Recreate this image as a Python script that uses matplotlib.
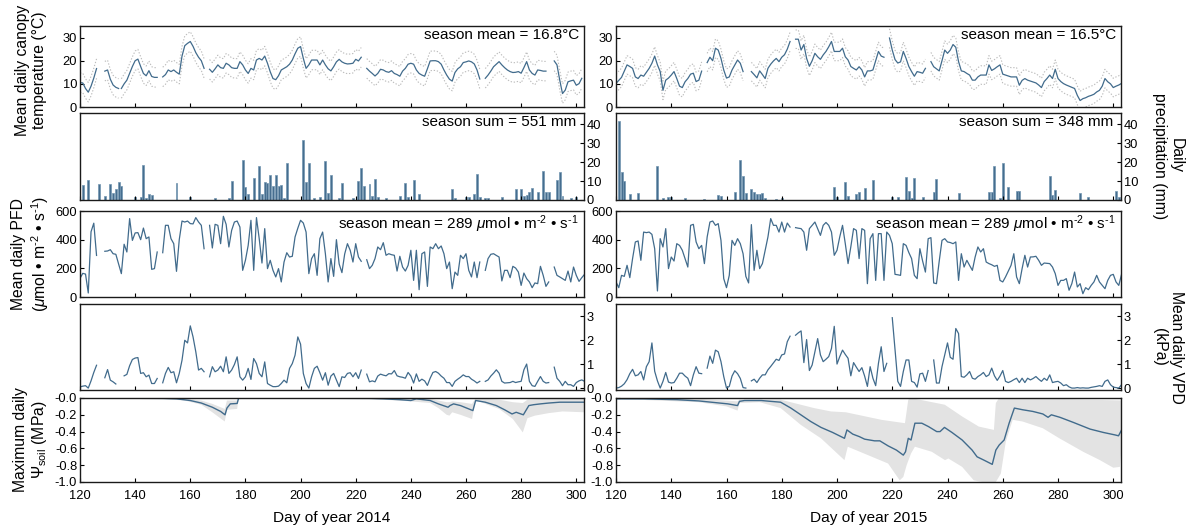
import numpy as np
import matplotlib
matplotlib.use("Agg")
import matplotlib.pyplot as plt

plt.rcParams['font.family'] = ['Liberation Sans', 'DejaVu Sans']
plt.rcParams['mathtext.fontset'] = 'custom'
plt.rcParams['mathtext.rm'] = 'Liberation Sans'
plt.rcParams['mathtext.it'] = 'Liberation Sans:italic'
plt.rcParams['axes.unicode_minus'] = False

# ---------------------------------------------------------------------------
# data: daily series as runs of (first day, values); gaps between runs
# ---------------------------------------------------------------------------
TEMP_2014 = [
    (120, [10.5, 10.4, 8.0, 6.4, 9.0, 12.5, 16.6]),
    (129, [15.5, 16.0, 12.0, 9.5, 8.5, 8.0]),
    (135, [8.0, 10.0, 11.6, 14.5, 17.5, 20.0, 20.7, 17.5, 14.5, 13.5, 15.7, 13.2, 12.8, 12.8]),
    (150, [13.0, 14.0, 16.0, 15.3, 16.0, 15.0, 14.2, 22.0, 26.5, 27.5, 28.3, 26.2, 23.5, 21.5,
           20.0, 16.7]),
    (167, [16.3, 15.0, 16.5, 18.2, 17.0, 16.7, 18.9, 18.2, 17.0, 16.7,
           16.7, 19.6, 18.2, 16.0, 14.5, 16.7, 16.0, 20.3, 21.0, 20.3,
           22.0, 18.9, 15.2, 12.3, 11.8, 13.5, 16.0, 16.7, 17.4, 18.5,
           20.3, 23.0, 25.4, 26.1, 21.0, 16.7, 18.2, 20.3, 20.3, 20.3,
           18.2, 20.3, 18.2, 16.5, 15.6, 17.4, 19.5, 20.6, 19.5, 18.9,
           18.6, 18.7, 18.9, 20.6, 19.9, 21.5]),
    (224, [16.7, 15.5, 14.5, 13.4, 14.5, 16.3, 16.0, 15.3, 15.0, 15.7,
           14.5, 14.0, 13.3, 15.5, 16.7, 18.5, 18.9, 18.5, 16.0, 14.5,
           13.8, 13.3, 16.5, 19.9, 20.0, 20.0, 19.6, 18.5, 16.0, 13.8,
           12.0, 11.2, 14.9, 16.5, 17.4, 19.2, 19.5, 19.9, 19.5, 18.6,
           16.0, 12.1]),
    (267, [12.4, 13.8, 15.5, 17.4, 18.5, 19.6, 18.2, 17.0, 16.0, 15.3,
           14.9, 15.0, 15.3, 14.6, 17.0, 19.6, 16.0, 14.5, 13.8, 16.0,
           15.8, 15.5, 15.5]),
    (292, [19.9, 18.2, 11.6, 5.8, 7.3, 10.9, 11.3, 11.6, 9.4, 10.1, 12.4]),
]

TEMP_2015 = [
    (120, [10.2, 11.5, 12.8, 15.5, 18.2, 17.5, 16.7, 13.0, 12.3, 13.8,
           13.3, 15.0, 16.7, 18.9, 22.0, 18.2, 15.3, 7.2, 11.6, 12.5,
           13.8, 15.3, 12.3, 9.0, 8.4, 10.9, 12.3, 14.2, 14.6, 11.0,
           11.6, 15.5]),
    (153, [19.2, 21.5, 20.0, 25.4, 24.6, 21.0, 16.0, 12.5, 13.0, 16.0, 18.2, 20.3, 18.9, 15.3]),
    (169, [15.3, 14.0, 12.6, 15.6, 14.0, 12.3, 16.7, 18.5, 19.9, 21.0, 19.6, 21.5, 22.6, 25.0,
           28.3]),
    (185, [29.3, 29.3, 24.6, 27.0, 21.0, 17.6, 20.0, 23.2, 21.7, 20.6,
           22.5, 24.0, 26.0, 28.3, 24.0, 24.0, 24.0, 25.4, 21.7, 20.3,
           17.5, 16.7, 16.0, 17.4, 16.0, 13.0, 15.6, 15.6, 16.0, 20.0,
           24.0, 22.0, 21.5]),
    (219, [29.8, 24.6, 20.5, 19.0, 19.5, 24.0, 21.0, 17.5, 15.3, 13.3, 15.3, 15.0, 14.6, 16.7]),
    (234, [19.6, 17.4, 16.5, 15.6, 20.0, 24.6, 23.2, 24.6, 27.0, 25.8,
           19.6, 15.6, 15.3, 14.5, 13.8, 11.6, 11.6, 13.0, 13.8, 13.8,
           13.8, 18.2, 15.8, 16.5, 17.4, 18.2, 14.2, 13.8, 13.4, 13.0,
           13.0, 13.0, 9.4, 11.5, 12.3, 11.6, 11.2, 10.8, 10.4, 9.5,
           8.4, 11.0, 12.3, 13.8, 12.3, 16.3, 12.3, 11.0, 10.1, 9.5,
           9.0, 8.5, 8.0, 5.0, 2.8, 3.6, 4.0, 4.6, 5.0, 5.5,
           6.5, 7.2, 9.0, 12.3, 10.9, 10.0, 8.4, 9.0, 9.5, 10.2]),
]

# spread of canopy sensors around the daily mean (degC)
TEMP_SD_2014 = 4.2
TEMP_SD_2015 = 4.0

# daily precipitation (mm), days not listed had no rain
PRECIP_2014 = {
    121: 8.0, 123: 10.5, 127: 8.4, 129: 2.3, 131: 8.2, 132: 3.9, 133: 6.0, 134: 9.6,
    135: 7.4, 140: 1.7, 142: 1.4, 143: 18.4, 144: 0.9, 145: 3.2, 146: 2.6, 155: 8.8,
    160: 1.8, 169: 0.9, 174: 1.2, 175: 10.0, 179: 21.0, 180: 6.7, 181: 3.2, 183: 11.4,
    185: 17.9, 186: 3.2, 187: 9.6, 188: 8.8, 189: 13.2, 190: 7.4, 191: 13.2, 192: 7.5,
    193: 7.9, 194: 1.2, 195: 19.3, 201: 31.9, 202: 9.6, 203: 19.6, 205: 0.9, 207: 1.4,
    209: 20.5, 210: 3.9, 211: 13.2, 214: 0.9, 215: 8.8, 219: 1.2, 221: 10.2, 222: 17.0,
    223: 7.5, 225: 8.2, 226: 2.1, 227: 10.9, 228: 1.8, 231: 0.9, 236: 2.1, 238: 8.8,
    239: 1.8, 241: 10.5, 243: 3.0, 255: 5.8, 256: 1.2, 260: 1.8, 261: 1.4, 263: 3.0,
    264: 13.7, 265: 1.4, 267: 1.2, 268: 1.2, 273: 1.4, 278: 5.8, 280: 5.8, 281: 2.1,
    282: 2.6, 283: 4.4, 284: 6.1, 286: 4.4, 288: 15.3, 289: 4.4, 290: 4.4, 293: 10.5,
    294: 14.9, 295: 2.1, 298: 0.9, 300: 1.8,
}
PRECIP_2015 = {
    121: 41.8, 122: 14.9, 123: 10.2, 125: 3.0, 128: 3.5, 135: 17.9, 137: 0.9, 139: 1.4,
    140: 1.4, 145: 1.2, 152: 0.7, 157: 2.6, 158: 2.1, 163: 4.0, 165: 21.4, 166: 12.6,
    167: 3.5, 169: 5.8, 170: 4.0, 171: 3.0, 172: 3.0, 173: 3.5, 174: 0.9, 178: 0.5,
    180: 1.2, 199: 7.0, 200: 1.8, 203: 9.3, 204: 2.3, 207: 3.2, 208: 4.0, 210: 6.1,
    213: 10.5, 220: 1.8, 222: 1.8, 225: 12.3, 226: 4.7, 227: 1.2, 228: 11.8, 231: 1.8,
    235: 4.4, 236: 10.9, 244: 3.5, 255: 4.4, 256: 4.4, 257: 17.9, 259: 1.2, 260: 19.6,
    262: 6.7, 265: 4.7, 266: 4.7, 277: 12.8, 278: 2.6, 279: 5.3, 288: 3.5, 291: 1.4,
    301: 4.7, 302: 1.8,
}

PFD_2014 = [
    (120, [130, 165, 160, 28, 455, 515, 290]),
    (129, [319, 321, 330, 302, 298, 230, 163, 368, 314, 547,
           395, 447, 449, 400, 481, 407, 419, 193, 198, 314]),
    (150, [309, 500, 500, 407, 372, 179, 400, 530, 523, 530, 512, 510, 554, 523, 500, 337]),
    (167, [500, 342, 507, 500, 372, 563, 507, 349, 465, 523,
           530, 488, 186, 256, 360, 535, 186, 554, 407, 237,
           477, 198, 256, 186, 140, 198, 105, 244, 309, 279,
           284, 419, 480, 535, 516, 453, 163, 268, 302, 151,
           407, 453, 302, 105, 268, 144, 400, 230, 170, 300,
           372, 326, 244, 372, 279, 249]),
    (224, [260, 198, 221, 268, 349, 330, 379, 291, 302, 295,
           291, 181, 284, 209, 181, 221, 326, 116, 326, 51,
           302, 314, 74, 349, 337, 372, 337, 356, 302, 198,
           244, 58, 174, 151, 291, 268, 302, 186, 140, 244,
           135, 244]),
    (267, [186, 268, 298, 302, 290, 279, 112, 186, 186, 135,
           214, 202, 174, 81, 167, 128, 105, 65, 98, 93,
           214, 151, 74, 105]),
    (292, [209, 151, 140, 128, 116, 181, 105, 209, 151, 109, 135, 158]),
]

PFD_2015 = [
    (120, [105, 65, 151, 144, 221, 135, 268, 384, 391, 256,
           453, 449, 453, 437, 337, 42, 407, 349, 477, 198,
           279, 251, 372, 360, 326, 268, 209, 500, 507, 384,
           337, 360, 233, 419, 523, 530, 500, 512, 395, 128,
           65, 151, 395, 360, 407, 372, 302, 144, 98, 505,
           186, 326, 198, 233, 326, 419, 547, 500, 500, 453,
           523, 453, 516, 488]),
    (185, [484, 480, 477, 453, 326, 477, 500, 523, 477, 430,
           500, 520, 500, 453, 291, 326, 420, 500, 372, 233,
           350, 477, 465, 268, 477, 465, 93, 407, 442, 116,
           442, 442, 116, 453, 430, 372, 158, 155, 151, 372,
           360, 310, 268, 151, 128, 337, 250, 174, 407, 414,
           98, 93, 250, 395, 407, 384, 380, 372, 384, 116,
           302, 209, 256, 220, 186, 279, 349, 314, 337, 244,
           233, 225, 214, 221, 116, 105, 140, 180, 221, 302,
           140, 93, 198, 291, 209, 279, 280, 284, 256, 221,
           237, 235, 233, 209, 163, 81, 116, 116, 128, 47,
           93, 174, 70, 93, 23, 65, 51, 81, 105, 151,
           105, 81, 58, 116, 151, 158, 105, 81, 158]),
]

VPD_2014 = [
    (120, [0.05, 0.08, 0.10, 0.0, 0.30, 0.65, 0.95]),
    (129, [0.43, 0.77, 0.33, 0.26, 0.17]),
    (136, [0.51, 0.57, 0.93, 1.19, 1.25, 1.27, 0.61, 0.64, 0.47, 0.54, 0.19, 0.19, 0.40]),
    (150, [0.22, 0.61, 0.86, 0.64, 0.68, 0.22, 0.61, 1.16, 1.99, 1.88, 2.59, 2.13, 1.51, 0.75,
           0.82, 0.68]),
    (167, [0.47, 0.89, 0.68, 0.75, 0.91, 0.68, 1.30, 0.61, 0.75, 0.98,
           1.30, 0.47, 0.33, 0.47, 0.82, 0.36, 1.23, 1.02, 0.61, 0.47,
           1.09, 0.19, 0.12, 0.06, 0.06, 0.08, 0.19, 0.33, 0.22, 0.82,
           1.02, 1.37, 2.13, 1.83, 0.61, 0.19, 0.0, 0.47, 0.82, 0.91,
           0.64, 0.33, 0.64, 0.12, 0.50, 0.61, 0.33, 0.06, 0.47, 0.44,
           0.61, 0.64, 0.47, 0.64, 0.40, 0.75]),
    (224, [0.58, 0.26, 0.30, 0.26, 0.50, 0.58, 0.54, 0.51, 0.60, 0.59,
           0.73, 0.51, 0.47, 0.45, 0.41, 0.65, 0.50, 0.21, 0.59, 0.28,
           0.37, 0.30, 0.11, 0.41, 0.65, 0.69, 0.62, 0.50, 0.41, 0.23,
           0.23, 0.07, 0.28, 0.37, 0.45, 0.55, 0.48, 0.48, 0.37, 0.30,
           0.21, 0.28]),
    (267, [0.28, 0.34, 0.50, 0.62, 0.76, 0.62, 0.28, 0.21, 0.22, 0.23,
           0.28, 0.23, 0.26, 0.28, 0.76, 1.00, 0.28, 0.10, 0.07, 0.28,
           0.48, 0.28, 0.21, 0.23]),
    (292, [0.87, 0.41, 0.28, 0.10, 0.28, 0.14, 0.14, 0.07, 0.23, 0.30, 0.34, 0.28]),
]

VPD_2015 = [
    (120, [0.0, 0.02, 0.08, 0.18, 0.35, 0.60, 0.78, 0.51, 0.55, 0.69,
           0.34, 0.89, 1.10, 1.88, 0.70, 0.30, 0.0, 0.28, 0.65, 0.25,
           0.21, 0.23, 0.41, 0.62, 0.62, 0.50, 0.41, 0.10, 0.55, 0.89,
           0.62, 0.60]),
    (153, [0.83, 1.33, 1.03, 1.58, 1.51, 1.10, 0.48, 0.0, 0.07, 0.50, 0.72, 0.60, 0.40, 0.02,
           0.0]),
    (169, [0.30, 0.37, 0.23, 0.41, 0.55, 0.55, 0.76, 0.90, 1.05, 1.20, 1.15, 1.38, 1.42, 1.93,
           2.16]),
    (185, [2.20, 2.30, 2.38, 1.06, 2.02, 0.73, 0.96, 1.50, 2.06, 1.38,
           1.10, 1.20, 1.31, 1.65, 2.57, 1.00, 1.31, 1.58, 1.40, 1.24,
           0.51, 1.06, 0.87, 0.69, 0.85, 0.50, 0.07, 0.89, 0.41, 0.10,
           1.03, 1.72, 0.69, 1.03]),
    (220, [2.93, 1.58, 0.28, 0.07, 0.69, 1.17, 1.17, 0.28, 0.23, 0.04, 0.59, 0.62, 0.28, 0.73]),
    (235, [1.17, 0.21, 0.21, 0.89, 1.38, 1.88, 1.28, 1.20, 2.48, 2.27,
           0.48, 0.45, 0.55, 0.69, 0.41, 0.37, 0.48, 0.55, 0.65, 0.48,
           0.55, 0.83, 0.51, 0.32, 0.50, 0.73, 0.28, 0.23, 0.28, 0.35,
           0.41, 0.23, 0.41, 0.23, 0.41, 0.34, 0.40, 0.48, 0.37, 0.28,
           0.41, 0.32, 0.55, 0.23, 0.26, 0.28, 0.21, 0.10, 0.14, 0.05,
           0.0, 0.0, 0.02, 0.0, 0.01, 0.0, 0.0, 0.03, 0.05, 0.07,
           0.10, 0.07, 0.28, 0.34, 0.14, 0.04, 0.02, 0.0, 0.14]),
]

# soil water potential (MPa): modelled mean and its uncertainty envelope
PSI_2014_DAY = [120, 150, 155, 160, 164, 168, 171, 172.6, 173.3, 174.5, 177, 177.5, 180, 225,
                230, 236, 240, 242, 247, 250, 253.5, 254.2, 255.5, 258, 261, 262.5, 263.5, 267,
                271, 274, 276.7, 278.2, 280.8, 282.8, 284.5, 287, 290, 294, 303]
PSI_2014 = [0, -0.005, -0.01, -0.03, -0.06, -0.11, -0.16, -0.2, -0.12, -0.07, -0.065, -0.005,
            0, -0.005, -0.01, -0.02, -0.03, -0.01, -0.03, -0.07, -0.11, -0.09, -0.07, -0.09,
            -0.13, -0.15, -0.03, -0.05, -0.09, -0.14, -0.19, -0.17, -0.2, -0.09, -0.08, -0.07,
            -0.06, -0.05, -0.05]
PSI_2014_LO_DAY = [120, 150, 158, 164, 168, 172.5, 173.3, 177, 177.5, 225, 235, 240, 247, 250,
                   253, 254, 255, 258, 262.2, 263.5, 267, 272, 277, 280.6, 282.3, 285, 290, 295,
                   303]
PSI_2014_LO = [0, -0.01, -0.03, -0.08, -0.17, -0.28, -0.14, -0.13, -0.005, -0.01, -0.03, -0.04,
               -0.06, -0.12, -0.2, -0.21, -0.17, -0.2, -0.25, -0.02, -0.07, -0.13, -0.25, -0.41,
               -0.24, -0.21, -0.18, -0.16, -0.17]
PSI_2014_HI_DAY = PSI_2014_LO_DAY
PSI_2014_HI = [0, 0, -0.01, -0.03, -0.07, -0.13, -0.03, -0.03, 0, 0, -0.005, -0.01, -0.01,
               -0.03, -0.05, -0.05, -0.04, -0.05, -0.07, 0, -0.01, -0.02, -0.05, -0.06, -0.02,
               -0.015, -0.01, -0.01, -0.01]

PSI_2015_DAY = [120, 130, 142, 150, 154.5, 160.5, 164, 164.7, 166.5, 172.6, 176, 179.6, 183.3,
                186.9, 190.5, 194.2, 198.4, 202.7, 203.6, 205.7, 208.1, 210, 211.8, 213.6, 215.5,
                218.5, 221.5, 224, 224.8, 225.8, 226.8, 228.2, 230.7, 233.1, 236.1, 237.3, 238.9,
                241.6, 245.3, 248.9, 250.7, 253.2, 256.2, 257.5, 258.7, 260.5, 262.3, 264.2,
                267.2, 270.9, 274.5, 276.4, 277.6, 280.7, 285.5, 291.6, 296.4, 300.7, 301.9,
                303.5]
PSI_2015 = [-0.01, -0.01, -0.02, -0.035, -0.05, -0.07, -0.09, -0.04, -0.03, -0.03, -0.04, -0.05,
            -0.12, -0.2, -0.28, -0.35, -0.41, -0.48, -0.38, -0.43, -0.46, -0.49, -0.5, -0.51,
            -0.51, -0.57, -0.62, -0.68, -0.64, -0.48, -0.5, -0.3, -0.3, -0.34, -0.4, -0.4, -0.35,
            -0.41, -0.5, -0.62, -0.7, -0.74, -0.79, -0.62, -0.56, -0.5, -0.3, -0.12, -0.14,
            -0.16, -0.19, -0.23, -0.2, -0.23, -0.29, -0.37, -0.41, -0.44, -0.45, -0.35]
PSI_2015_LO_DAY = [120, 150, 160, 164, 164.7, 172, 179.6, 186.9, 194.2, 202.7, 203.9, 211.2,
                   218.5, 222.7, 224, 225.2, 226.8, 228.2, 234.3, 239.1, 240.3, 245.3, 249.5,
                   252.5, 257.5, 259.3, 261.1, 263.6, 267.2, 274.5, 280.5, 289.1, 295.2, 300,
                   302.4, 303, 304.4]
PSI_2015_LO = [-0.01, -0.05, -0.1, -0.15, -0.06, -0.05, -0.12, -0.32, -0.48, -0.74, -0.58,
               -0.68, -0.78, -0.98, -0.94, -0.8, -0.66, -0.58, -0.64, -0.74, -0.72, -0.82,
               -0.98, -1.0, -1.0, -0.9, -0.52, -0.26, -0.28, -0.36, -0.48, -0.64, -0.74, -0.83,
               -0.82, -0.58, -0.54]
PSI_2015_HI_DAY = [120, 150, 164, 164.7, 172, 179.6, 191.7, 197.8, 203.2, 216.1, 224.6, 225.8,
                   226.8, 239, 245.3, 251.3, 256.8, 257.5, 258.7, 280, 290, 304.4]
PSI_2015_HI = [0, -0.01, -0.04, -0.02, -0.02, -0.02, -0.12, -0.16, -0.17, -0.26, -0.3, -0.02,
               0, -0.08, -0.22, -0.34, -0.38, -0.06, 0, -0.01, -0.02, -0.03]

YEARS = [2014, 2015]
TEMP_LABELS = ['season mean = 16.8°C', 'season mean = 16.5°C']
PRECIP_LABELS = ['season sum = 551 mm', 'season sum = 348 mm']
PFD_UNIT = r'$\mathit{\mu}$mol • m$^{\text{-2}}$ • s$^{\text{-1}}$'
PFD_LABELS = ['season mean = 289 ' + PFD_UNIT] * 2

# ---------------------------------------------------------------------------
# styling / layout
# ---------------------------------------------------------------------------
LINE = '#416b8c'
BAR = '#466e8f'
BAR_EDGE = '#7295b1'
BAND = '#e3e3e3'
DOTS = '#bcbcbc'
TICK_FS = 9.3
NOTE_FS = 11.0
LABEL_FS = 11.3

W, H = 1192, 528
COLS = [(80, 584), (616, 1121)]
ROWS = [(26, 107), (113, 200), (211, 297), (304, 390), (398, 482)]
XLIM = (120, 302.8)


def runs_xy(runs, offset=0.0):
    xs, ys = [], []
    for start, vals in runs:
        xs += list(range(start, start + len(vals))) + [np.nan]
        ys += [v + offset for v in vals] + [np.nan]
    return np.array(xs, float), np.array(ys, float)


def style_axis(ax, side='left'):
    for sp in ax.spines.values():
        sp.set_linewidth(1.0)
        sp.set_color('#1a1a1a')
    ax.set_xlim(*XLIM)
    ax.set_xticks(range(120, 301, 20))
    ax.tick_params(axis='x', direction='in', length=3, width=0.8, labelbottom=False)
    if side == 'right':
        ax.yaxis.tick_right()
    ax.tick_params(axis='y', direction='in', length=3, width=0.8, pad=2,
                   labelsize=TICK_FS)


fig = plt.figure(figsize=(W / 100, H / 100), dpi=100)

for col, year in enumerate(YEARS):
    x0, x1 = COLS[col]
    axes = []
    for (y0, y1) in ROWS:
        axes.append(fig.add_axes([x0 / W, 1 - y1 / H, (x1 - x0) / W, (y1 - y0) / H]))
    ax_t, ax_p, ax_l, ax_v, ax_s = axes

    temp = TEMP_2014 if year == 2014 else TEMP_2015
    sd = TEMP_SD_2014 if year == 2014 else TEMP_SD_2015
    precip = PRECIP_2014 if year == 2014 else PRECIP_2015
    pfd = PFD_2014 if year == 2014 else PFD_2015
    vpd = VPD_2014 if year == 2014 else VPD_2015

    # canopy temperature with sensor spread
    for off in (sd, -sd):
        xs, ys = runs_xy(temp, off)
        ax_t.plot(xs, ys, color=DOTS, lw=0.8, ls=(0, (1.2, 1.6)))
    xs, ys = runs_xy(temp)
    ax_t.plot(xs, ys, color=LINE, lw=0.9)
    style_axis(ax_t)
    ax_t.set_ylim(0, 35)
    ax_t.set_yticks([0, 10, 20, 30])
    ax_t.text(0.99, 0.975, TEMP_LABELS[col], transform=ax_t.transAxes,
              ha='right', va='top', fontsize=NOTE_FS)

    # daily precipitation
    days = np.arange(120, 304)
    rain = [precip.get(d, 0.0) for d in days]
    ax_p.bar(days, rain, width=0.72, color=BAR, edgecolor=BAR_EDGE, linewidth=0.5)
    style_axis(ax_p, 'right')
    ax_p.set_ylim(0, 46)
    ax_p.set_yticks([0, 10, 20, 30, 40])
    ax_p.text(0.985, 0.975, PRECIP_LABELS[col], transform=ax_p.transAxes,
              ha='right', va='top', fontsize=NOTE_FS)

    # photon flux density
    xs, ys = runs_xy(pfd)
    ax_l.plot(xs, ys, color=LINE, lw=0.9)
    style_axis(ax_l)
    ax_l.set_ylim(0, 600)
    ax_l.set_yticks([0, 200, 400, 600])
    ax_l.text(0.99, 0.975, PFD_LABELS[col], transform=ax_l.transAxes,
              ha='right', va='top', fontsize=NOTE_FS)

    # vapour pressure deficit
    xs, ys = runs_xy(vpd)
    ax_v.plot(xs, ys, color=LINE, lw=0.9)
    style_axis(ax_v, 'right')
    ax_v.set_ylim(-0.08, 3.5)
    ax_v.set_yticks([0, 1, 2, 3])

    # soil water potential
    if year == 2014:
        d, m = PSI_2014_DAY, PSI_2014
        lo_d, lo, hi_d, hi = PSI_2014_LO_DAY, PSI_2014_LO, PSI_2014_HI_DAY, PSI_2014_HI
    else:
        d, m = PSI_2015_DAY, PSI_2015
        lo_d, lo, hi_d, hi = PSI_2015_LO_DAY, PSI_2015_LO, PSI_2015_HI_DAY, PSI_2015_HI
    ax_s.fill(list(lo_d) + list(hi_d)[::-1], list(lo) + list(hi)[::-1],
              color=BAND, lw=0)
    ax_s.plot(d, m, color=LINE, lw=1.0)
    style_axis(ax_s)
    ax_s.set_ylim(-1.0, 0.0)
    ax_s.set_yticks([-1.0, -0.8, -0.6, -0.4, -0.2, 0.0])
    ax_s.set_yticklabels(['-1.0', '-0.8', '-0.6', '-0.4', '-0.2', '-0.0'])
    ax_s.tick_params(axis='x', labelbottom=True, labelsize=TICK_FS, pad=6)
    ax_s.set_xlabel(f'Day of year {year}', fontsize=11.1, labelpad=6)

# row labels
fig.text(31 / W, 1 - 70 / H, 'Mean daily canopy\ntemperature (°C)', rotation=90,
         ha='center', va='center', fontsize=LABEL_FS, linespacing=1.15)
fig.text(31 / W, 1 - 254 / H, 'Mean daily PFD\n(' + PFD_UNIT + ')',
         rotation=90, ha='center', va='center', fontsize=LABEL_FS, linespacing=1.15)
fig.text(31 / W, 1 - 440 / H, 'Maximum daily\n' + r'$\Psi_{\text{soil}}$ (MPa)',
         rotation=90, ha='center', va='center', fontsize=LABEL_FS, linespacing=1.15)
fig.text(1168 / W, 1 - 156 / H, 'Daily\nprecipitation (mm)', rotation=270,
         ha='center', va='center', fontsize=LABEL_FS, linespacing=1.15)
fig.text(1168 / W, 1 - 347 / H, 'Mean daily VPD\n(kPa)', rotation=270,
         ha='center', va='center', fontsize=LABEL_FS, linespacing=1.15)

fig.savefig('out.png', dpi=100)
